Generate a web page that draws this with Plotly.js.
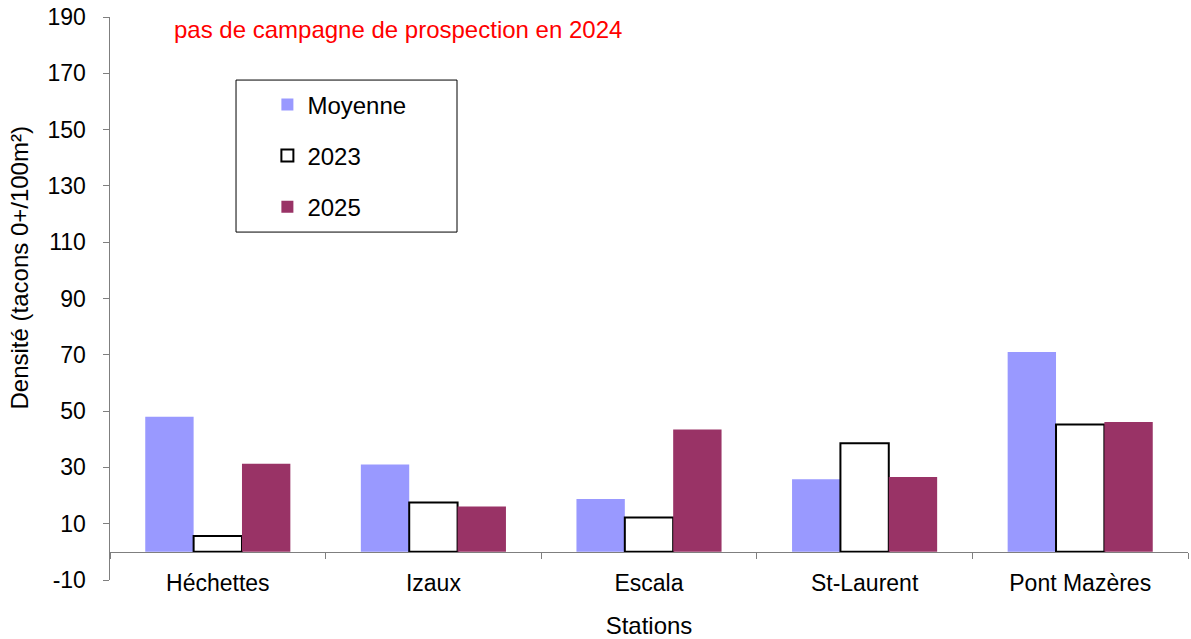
<!DOCTYPE html>
<html>
<head>
<meta charset="utf-8">
<script src="https://cdn.plot.ly/plotly-3.0.1.min.js"></script>
<style>
    html, body { margin: 0; padding: 0; background: #ffffff; }
    #chart { width: 1191px; height: 639px; }
</style>
</head>
<body>
<div id="chart"></div>
<script>
// 관측소 (stations)
const stations = ['Héchettes', 'Izaux', 'Escala', 'St-Laurent', 'Pont Mazères'];

// densités (tacons 0+/100m²)
const moyenne = [48.0, 31.0, 18.8, 25.8, 71.0];
const annee2023 = [5.6, 17.5, 12.2, 38.6, 45.2];
const annee2025 = [31.3, 16.1, 43.5, 26.6, 46.1];

const yTicks = [-10, 10, 30, 50, 70, 90, 110, 130, 150, 170, 190];

const fontFamily = 'Arial, "Liberation Sans", sans-serif';

const traceMoy = {
    x: stations,
    y: moyenne,
    name: 'Moyenne',
    type: 'bar',
    legendgroup: 'a',
    marker: { color: '#9999FF', line: { width: 0 } }
};

const trace2023 = {
    x: stations,
    y: annee2023,
    name: '2023',
    type: 'bar',
    legendgroup: 'b',
    marker: { color: '#FFFFFF', line: { width: 2, color: '#000000' } }
};

const trace2025 = {
    x: stations,
    y: annee2025,
    name: '2025',
    type: 'bar',
    legendgroup: 'c',
    marker: { color: '#993366', line: { width: 0 } }
};

const data = [traceMoy, trace2023, trace2025];

const layout = {
    width: 1191,
    height: 639,
    margin: { l: 110, r: 3, t: 17, b: 59 },
    paper_bgcolor: '#ffffff',
    plot_bgcolor: '#ffffff',
    font: { family: fontFamily, size: 23, color: '#000000' },
    barmode: 'group',
    bargap: 0.327,
    bargroupgap: 0,
    showlegend: true,
    legend: {
        x: 0.146,
        y: 0.884,
        xanchor: 'left',
        yanchor: 'top',
        bgcolor: 'rgba(0,0,0,0)',
        borderwidth: 0,
        tracegroupgap: 17,
        font: { family: fontFamily, size: 24, color: '#000000' }
    },
    xaxis: {
        type: 'category',
        anchor: 'free',
        position: 0.05, // y = 0
        showline: true,
        linecolor: '#7f7f7f',
        linewidth: 1.5,
        ticks: 'outside',
        tickson: 'boundaries',
        ticklen: 6,
        tickcolor: '#7f7f7f',
        ticklabelstandoff: 10,
        showgrid: false,
        zeroline: false,
        automargin: false,
        tickfont: { family: fontFamily, size: 23, color: '#000000' },
        title: { text: 'Stations', standoff: 23, font: { family: fontFamily, size: 24, color: '#000000' } }
    },
    yaxis: {
        range: [-10, 190],
        tickvals: yTicks,
        ticktext: yTicks.map(String),
        showline: true,
        linecolor: '#7f7f7f',
        linewidth: 1.5,
        ticks: 'outside',
        ticklen: 6,
        tickcolor: '#7f7f7f',
        ticklabelstandoff: 12,
        showgrid: false,
        zeroline: false,
        automargin: false,
        tickfont: { family: fontFamily, size: 23, color: '#000000' }
    },
    shapes: [
        // cadre de la légende
        {
            type: 'rect', xref: 'paper', yref: 'paper',
            x0: 0.1169, x1: 0.3219, y0: 0.618, y1: 0.888,
            line: { color: '#000000', width: 1 },
            fillcolor: 'rgba(0,0,0,0)',
            layer: 'below'
        }
    ],
    annotations: [
        {
            text: 'Densité (tacons 0+/100m²)',
            xref: 'paper', yref: 'paper',
            x: -0.0835, y: 0.555,
            xanchor: 'center', yanchor: 'middle',
            textangle: -90,
            showarrow: false,
            font: { family: fontFamily, size: 24, color: '#000000' }
        },
        {
            text: 'pas de campagne de prospection en 2024',
            xref: 'paper', yref: 'paper',
            x: 0.0575, y: 0.977,
            xanchor: 'left', yanchor: 'middle',
            showarrow: false,
            font: { family: fontFamily, size: 24, color: '#FF0000' }
        }
    ]
};

Plotly.newPlot('chart', data, layout, { displayModeBar: false, staticPlot: true });
</script>
</body>
</html>
